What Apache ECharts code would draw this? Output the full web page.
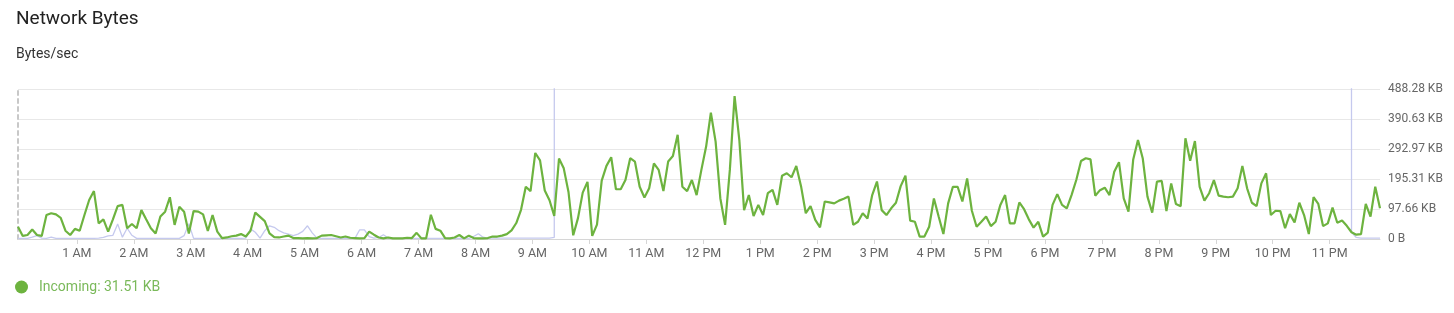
<!DOCTYPE html>
<html>
<head>
<meta charset="utf-8">
<script src="https://cdn.jsdelivr.net/npm/echarts@6/dist/echarts.min.js"></script>
<style>
  html, body { margin: 0; padding: 0; background: #fff; }
  #chart { width: 1454px; height: 313px; }
</style>
</head>
<body>
<div id="chart"></div>
<script>
// Time of first sample in minutes relative to midnight, sample step 5 minutes
const startMinute = -2;
const stepMinutes = 5;

// Incoming bytes/sec (KB, 1 KB = 1024 B), one value per 5-minute sample
const incomingKB = [
  40, 10, 13, 31, 13, 10, 78, 84, 80, 69, 27, 13, 33, 27, 78, 127, 156, 51, 64, 24,
  64, 107, 111, 35, 49, 35, 94, 64, 35, 18, 73, 89, 136, 46, 105, 89, 18, 91, 89, 80,
  26, 78, 24, 3, 5, 9, 11, 16, 8, 27, 86, 72, 58, 18, 6, 5, 8, 11, 3, 3,
  2, 3, 2, 3, 11, 12, 13, 9, 5, 8, 4, 3, 2, 3, 24, 14, 5, 2, 5, 2,
  2, 2, 4, 3, 20, 2, 2, 79, 33, 27, 3, 2, 5, 13, 2, 11, 3, 2, 2, 3,
  8, 8, 11, 16, 28, 52, 95, 170, 156, 280, 256, 158, 126, 75, 262, 230, 153, 12, 68, 151,
  186, 10, 47, 190, 238, 266, 162, 162, 192, 263, 252, 170, 135, 165, 246, 225, 156, 252, 270, 339,
  170, 156, 192, 143, 225, 301, 411, 317, 132, 46, 225, 465, 322, 94, 143, 75, 111, 78, 149, 160,
  111, 206, 214, 201, 238, 172, 84, 107, 62, 38, 122, 119, 116, 125, 131, 138, 46, 56, 84, 67,
  143, 187, 94, 78, 100, 118, 172, 206, 60, 56, 8, 8, 40, 132, 73, 16, 116, 170, 170, 122,
  197, 92, 40, 56, 73, 42, 56, 111, 143, 51, 51, 119, 97, 64, 37, 56, 8, 21, 111, 146,
  111, 100, 143, 192, 254, 263, 259, 141, 159, 167, 143, 219, 250, 132, 89, 259, 322, 263, 138, 86,
  187, 189, 91, 181, 114, 107, 328, 255, 319, 170, 125, 149, 192, 141, 138, 136, 138, 165, 238, 165,
  118, 107, 181, 214, 78, 92, 91, 35, 81, 54, 118, 78, 16, 136, 114, 42, 51, 102, 53, 60,
  43, 22, 14, 16, 114, 73, 170, 100
];

// Second (unlabelled) series, KB; very large values run off the top of the plot
const otherKB = [
  2, 2, 2, 6, 11, 3, 2, 6, 2, 2, 2, 2, 2, 2, 2, 2, 2, 3, 5, 10,
  12, 49, 6, 35, 12, 2, 2, 2, 2, 2, 2, 2, 2, 2, 2, 11, 50, 2, 2, 2,
  2, 2, 2, 2, 2, 2, 2, 2, 3, 33, 22, 3, 27, 43, 38, 27, 20, 16, 11, 16,
  25, 43, 20, 3, 2, 2, 2, 2, 2, 2, 2, 2, 30, 30, 8, 3, 5, 14, 3, 2,
  2, 2, 2, 2, 2, 2, 2, 2, 2, 2, 2, 2, 2, 2, 2, 2, 8, 17, 6, 3,
  3, 3, 3, 3, 3, 3, 3, 3, 3, 3, 3, 3, 3, 5,
  50000, 50000, 50000, 50000, 50000, 50000, 50000, 50000, 50000, 50000, 50000, 50000, 50000, 50000, 50000, 50000, 50000, 50000, 50000, 50000,
  50000, 50000, 50000, 50000, 50000, 50000, 50000, 50000, 50000, 50000, 50000, 50000, 50000, 50000, 50000, 50000, 50000, 50000, 50000, 50000,
  50000, 50000, 50000, 50000, 50000, 50000, 50000, 50000, 50000, 50000, 50000, 50000, 50000, 50000, 50000, 50000, 50000, 50000, 50000, 50000,
  50000, 50000, 50000, 50000, 50000, 50000, 50000, 50000, 50000, 50000, 50000, 50000, 50000, 50000, 50000, 50000, 50000, 50000, 50000, 50000,
  50000, 50000, 50000, 50000, 50000, 50000, 50000, 50000, 50000, 50000, 50000, 50000, 50000, 50000, 50000, 50000, 50000, 50000, 50000, 50000,
  50000, 50000, 50000, 50000, 50000, 50000, 50000, 50000, 50000, 50000, 50000, 50000, 50000, 50000, 50000, 50000, 50000, 50000, 50000, 50000,
  50000, 50000, 50000, 50000, 50000, 50000, 50000, 50000, 50000, 50000, 50000, 50000, 50000, 50000, 50000, 50000, 50000, 50000, 50000, 50000,
  50000, 50000, 50000, 50000, 50000, 50000, 50000, 50000, 50000, 50000, 50000, 50000, 50000, 50000, 50000, 50000, 50000, 50000, 50000, 50000,
  50000, 50000, 50000, 50000, 50000, 50000, 50000,
  22, 5, 3, 3, 3, 3, 3
];

// Hour tick positions (minutes after midnight) and labels
const hourTicks = [60, 120, 180, 240, 300, 360, 420, 480, 540, 600, 660, 720, 780, 840, 900, 960, 1020, 1080, 1140, 1200, 1260, 1320, 1380];
const hourLabels = ['1 AM', '2 AM', '3 AM', '4 AM', '5 AM', '6 AM', '7 AM', '8 AM', '9 AM', '10 AM', '11 AM', '12 PM',
                    '1 PM', '2 PM', '3 PM', '4 PM', '5 PM', '6 PM', '7 PM', '8 PM', '9 PM', '10 PM', '11 PM'];

// Y axis: 0 .. 488.28 KB in steps of 97.66 KB (100000 B)
const yStepKB = 100000 / 1024;
const yMaxKB = 500000 / 1024;

const legendText = 'Incoming: 31.51 KB';

const times = incomingKB.map((_, i) => startMinute + i * stepMinutes);
const incomingData = incomingKB.map((v, i) => [times[i], v]);
const otherData = otherKB.map((v, i) => [times[i], v]);

const chart = echarts.init(document.getElementById('chart'), null, { renderer: 'canvas' });
chart.setOption({
  animation: false,
  title: {
    text: 'Network Bytes',
    subtext: 'Bytes/sec',
    left: 16,
    top: 7,
    itemGap: 14,
    padding: 0,
    textStyle: { fontFamily: 'Roboto, sans-serif', fontSize: 19, fontWeight: 'normal', color: '#222', lineHeight: 24 },
    subtextStyle: { fontFamily: 'Roboto, sans-serif', fontSize: 14, color: '#333', lineHeight: 18 }
  },
  legend: {
    data: ['Incoming'],
    left: 15,
    top: 280,
    padding: 0,
    icon: 'circle',
    itemWidth: 13,
    itemHeight: 13,
    formatter: () => legendText,
    textStyle: { fontFamily: 'Roboto, sans-serif', fontSize: 14, color: '#7ab95a', padding: [0, 0, 0, 6] }
  },
  grid: { left: 18, right: 74, top: 89, bottom: 74, containLabel: false },
  xAxis: {
    type: 'value',
    min: startMinute,
    max: startMinute + (incomingKB.length - 1) * stepMinutes,
    axisLine: { show: true, lineStyle: { color: '#d6d6d6' } },
    axisTick: { show: true, length: 5, lineStyle: { color: '#d6d6d6' }, customValues: hourTicks },
    axisLabel: {
      customValues: hourTicks,
      formatter: v => hourLabels[hourTicks.indexOf(v)] || '',
      color: '#666', fontFamily: 'Roboto, sans-serif', fontSize: 12.5, margin: 8
    },
    splitLine: { show: false }
  },
  yAxis: [
    {
      type: 'value',
      position: 'right',
      min: 0,
      max: yMaxKB,
      interval: yStepKB,
      axisLine: { show: false },
      axisTick: { show: false },
      axisLabel: {
        formatter: v => v === 0 ? '0 B' : v.toFixed(2) + ' KB',
        color: '#666', fontFamily: 'Roboto, sans-serif', fontSize: 12, margin: 8
      },
      splitLine: { show: true, lineStyle: { color: '#e8e8e8' } }
    },
    {
      type: 'value',
      position: 'left',
      min: 0,
      max: yMaxKB,
      interval: yStepKB,
      axisLine: { show: true, lineStyle: { color: '#c8c8c8', type: [4, 4], width: 2 } },
      axisTick: { show: false },
      axisLabel: { show: false },
      splitLine: { show: false }
    }
  ],
  series: [
    {
      name: 'Outgoing',
      type: 'line',
      data: otherData,
      yAxisIndex: 0,
      showSymbol: false,
      clip: true,
      lineStyle: { color: '#c5c9ee', width: 1.3 },
      itemStyle: { color: '#c5c9ee' },
      z: 2
    },
    {
      name: 'Incoming',
      type: 'line',
      data: incomingData,
      yAxisIndex: 0,
      showSymbol: false,
      clip: true,
      lineStyle: { color: '#6db33f', width: 2.2 },
      itemStyle: { color: '#6db33f' },
      z: 3
    }
  ]
});
</script>
</body>
</html>
